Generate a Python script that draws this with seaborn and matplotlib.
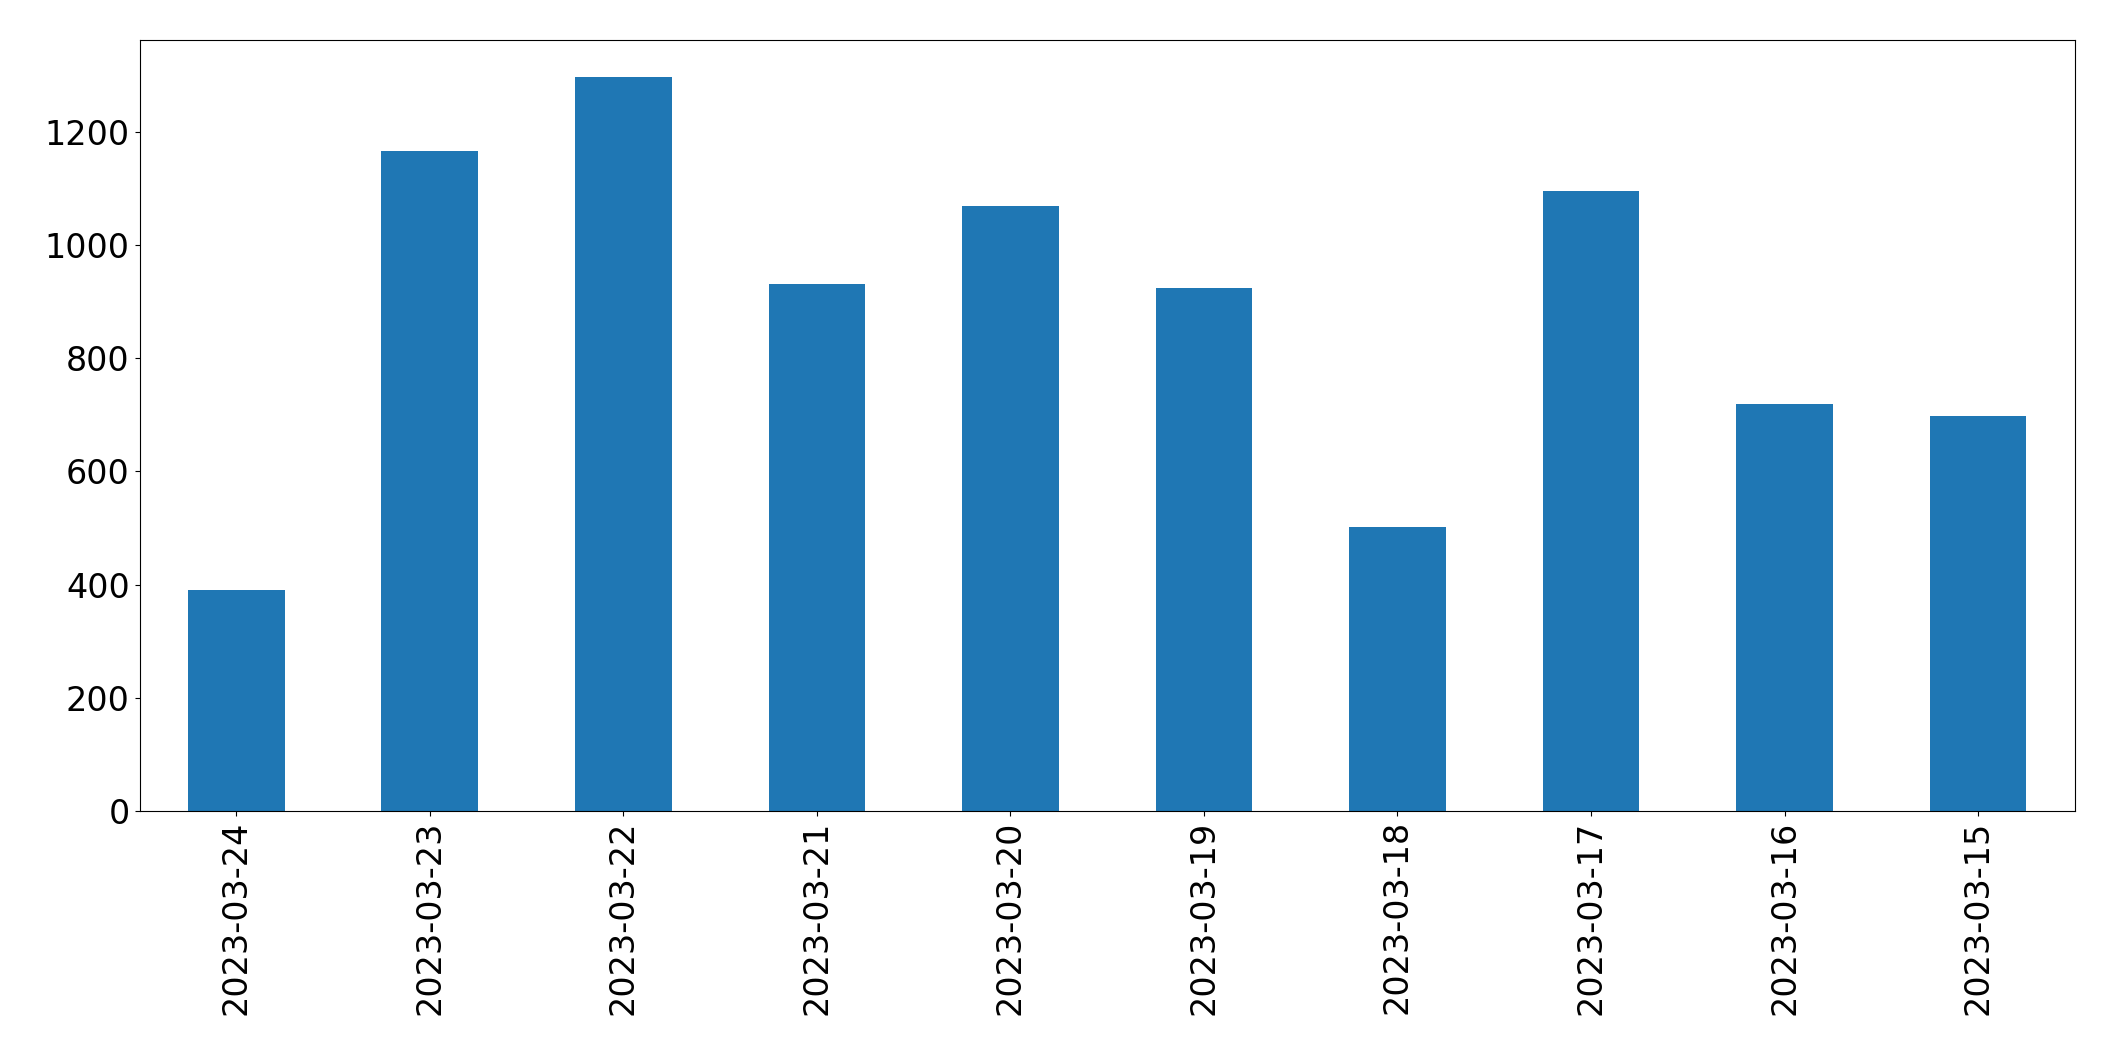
import pandas as pd
import seaborn as sns
import matplotlib.pyplot as plt

dates = ['2023-03-24', '2023-03-23', '2023-03-22', '2023-03-21', '2023-03-20',
         '2023-03-19', '2023-03-18', '2023-03-17', '2023-03-16', '2023-03-15']
counts = [390, 1167, 1298, 932, 1069, 925, 502, 1097, 720, 698]

df = pd.DataFrame({'date': dates, 'count': counts})

fig, ax = plt.subplots(figsize=(21.15, 10.61), dpi=100)
sns.barplot(data=df, x='date', y='count', color='#1f77b4', saturation=1, width=0.5, ax=ax)
ax.set_xlabel('')
ax.set_ylabel('')
ax.tick_params(axis='both', labelsize=24)
ax.tick_params(axis='x', rotation=90)
ax.set_xlim(-0.5, len(dates) - 0.5)
plt.subplots_adjust(left=0.066, right=0.981, top=0.962, bottom=0.236)
plt.savefig('out.png')
